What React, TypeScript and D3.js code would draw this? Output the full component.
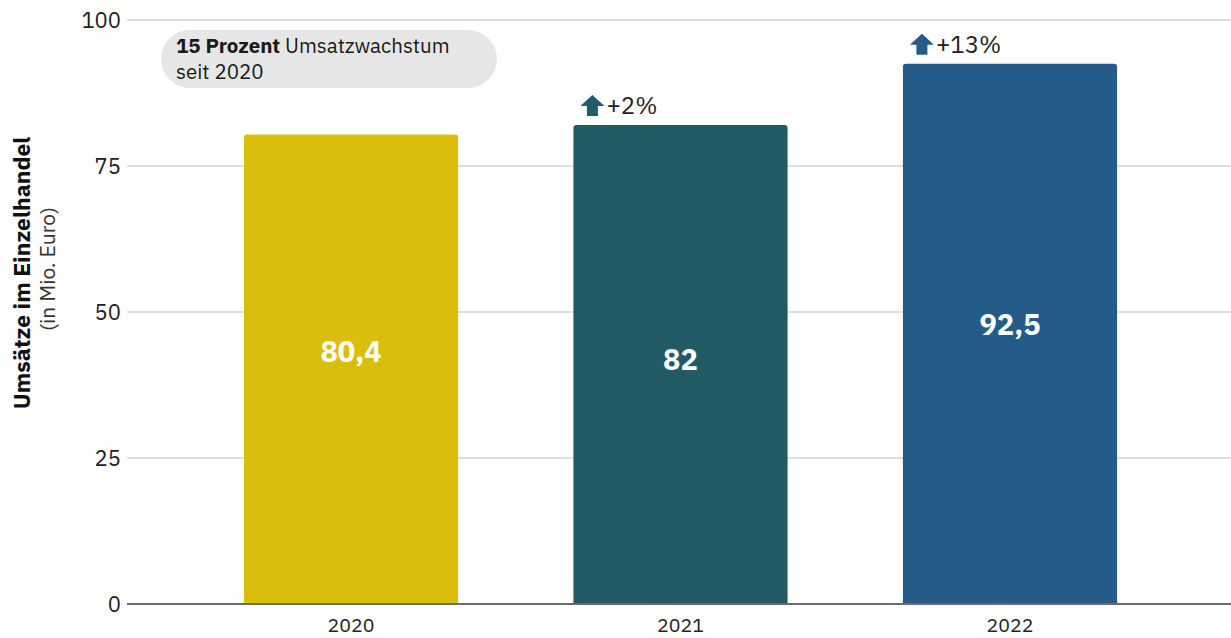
import React from "react";
import * as d3 from "d3";

const years = ["2020", "2021", "2022"];
const values = [80.4, 82, 92.5];
const valueLabels = ["80,4", "82", "92,5"];
const labelAt = [43.2, 41.8, 47.8];
const growth = [null, "+2%", "+13%"];
const colors = ["#D9BF0C", "#225B65", "#255B88"];
const yTicks = [0, 25, 50, 75, 100];

const W = 1231;
const H = 638;
const FONT = "'IBM Plex Sans', 'Noto Sans', 'Open Sans', sans-serif";

export default function App() {
  const y = d3.scaleLinear().domain([0, 100]).range([604, 20]);
  const x = d3
    .scaleBand<string>()
    .domain(years)
    .range([186.25, 1174.75])
    .paddingInner(0.35)
    .paddingOuter(0.175);
  const left = 127;
  const bw = x.bandwidth();
  const r = 3;

  const barPath = (x0: number, y0: number, w: number, h: number) =>
    `M${x0},${y0 + h}V${y0 + r}Q${x0},${y0} ${x0 + r},${y0}H${x0 + w - r}Q${x0 + w},${y0} ${x0 + w},${y0 + r}V${y0 + h}Z`;

  const arrow = (cx: number, top: number, color: string) => {
    const w = 24, h = 21;
    const x0 = cx - w / 2;
    const p = `M${cx},${top} L${x0 + w},${top + 11} L${cx + 5.5},${top + 11} L${cx + 5.5},${top + h} L${cx - 5.5},${top + h} L${cx - 5.5},${top + 11} L${x0},${top + 11} Z`;
    return <path d={p} fill={color} />;
  };

  return (
    <svg width={W} height={H} style={{ position: "absolute", left: 0, top: 0, background: "#fff" }} fontFamily={FONT}>
      {yTicks.map((t) => (
        <g key={t}>
          {t > 0 && (
            <line x1={left} x2={W} y1={y(t)} y2={y(t)} stroke="#d4d4d4" strokeWidth={1.5} />
          )}
          <text x={121} y={y(t)} dy="0.35em" textAnchor="end" fontSize={22} fill="#222">
            {t}
          </text>
        </g>
      ))}
      {years.map((yr, i) => {
        const x0 = x(yr)!;
        const y0 = y(values[i]);
        return (
          <g key={yr}>
            <path d={barPath(x0, y0, bw, y(0) - y0)} fill={colors[i]} />
            <text
              x={x0 + bw / 2}
              y={y(labelAt[i])}
              dy="0.35em"
              textAnchor="middle"
              fontSize={29}
              fontWeight="bold"
              fill="#fff"
            >
              {valueLabels[i]}
            </text>
            {growth[i] && (
              <g>
                {arrow(x0 + 19, y0 - 30, colors[i])}
                <text x={x0 + 33} y={y0 - 11} fontSize={24} fill="#222">
                  {growth[i]}
                </text>
              </g>
            )}
            <text x={x0 + bw / 2} y={632} textAnchor="middle" fontSize={19.5} fill="#222">
              {yr}
            </text>
          </g>
        );
      })}
      <line x1={left} x2={W} y1={y(0)} y2={y(0)} stroke="#6b6b6b" strokeWidth={2} />

      <rect x={161} y={30} width={336} height={58} rx={29} fill="#e6e6e6" />
      <text x={176} y={53} fontSize={20.5} fill="#1a1a1a">
        <tspan fontWeight="bold">15 Prozent</tspan> Umsatzwachstum
      </text>
      <text x={176} y={79} fontSize={20.5} fill="#1a1a1a">
        seit 2020
      </text>

      <text
        transform="translate(30,273) rotate(-90)"
        textAnchor="middle"
        fontSize={23}
        fontWeight="bold"
        fill="#111"
      >
        Umsätze im Einzelhandel
      </text>
      <text
        transform="translate(55,269) rotate(-90)"
        textAnchor="middle"
        fontSize={21}
        fill="#333"
      >
        (in Mio. Euro)
      </text>
    </svg>
  );
}
